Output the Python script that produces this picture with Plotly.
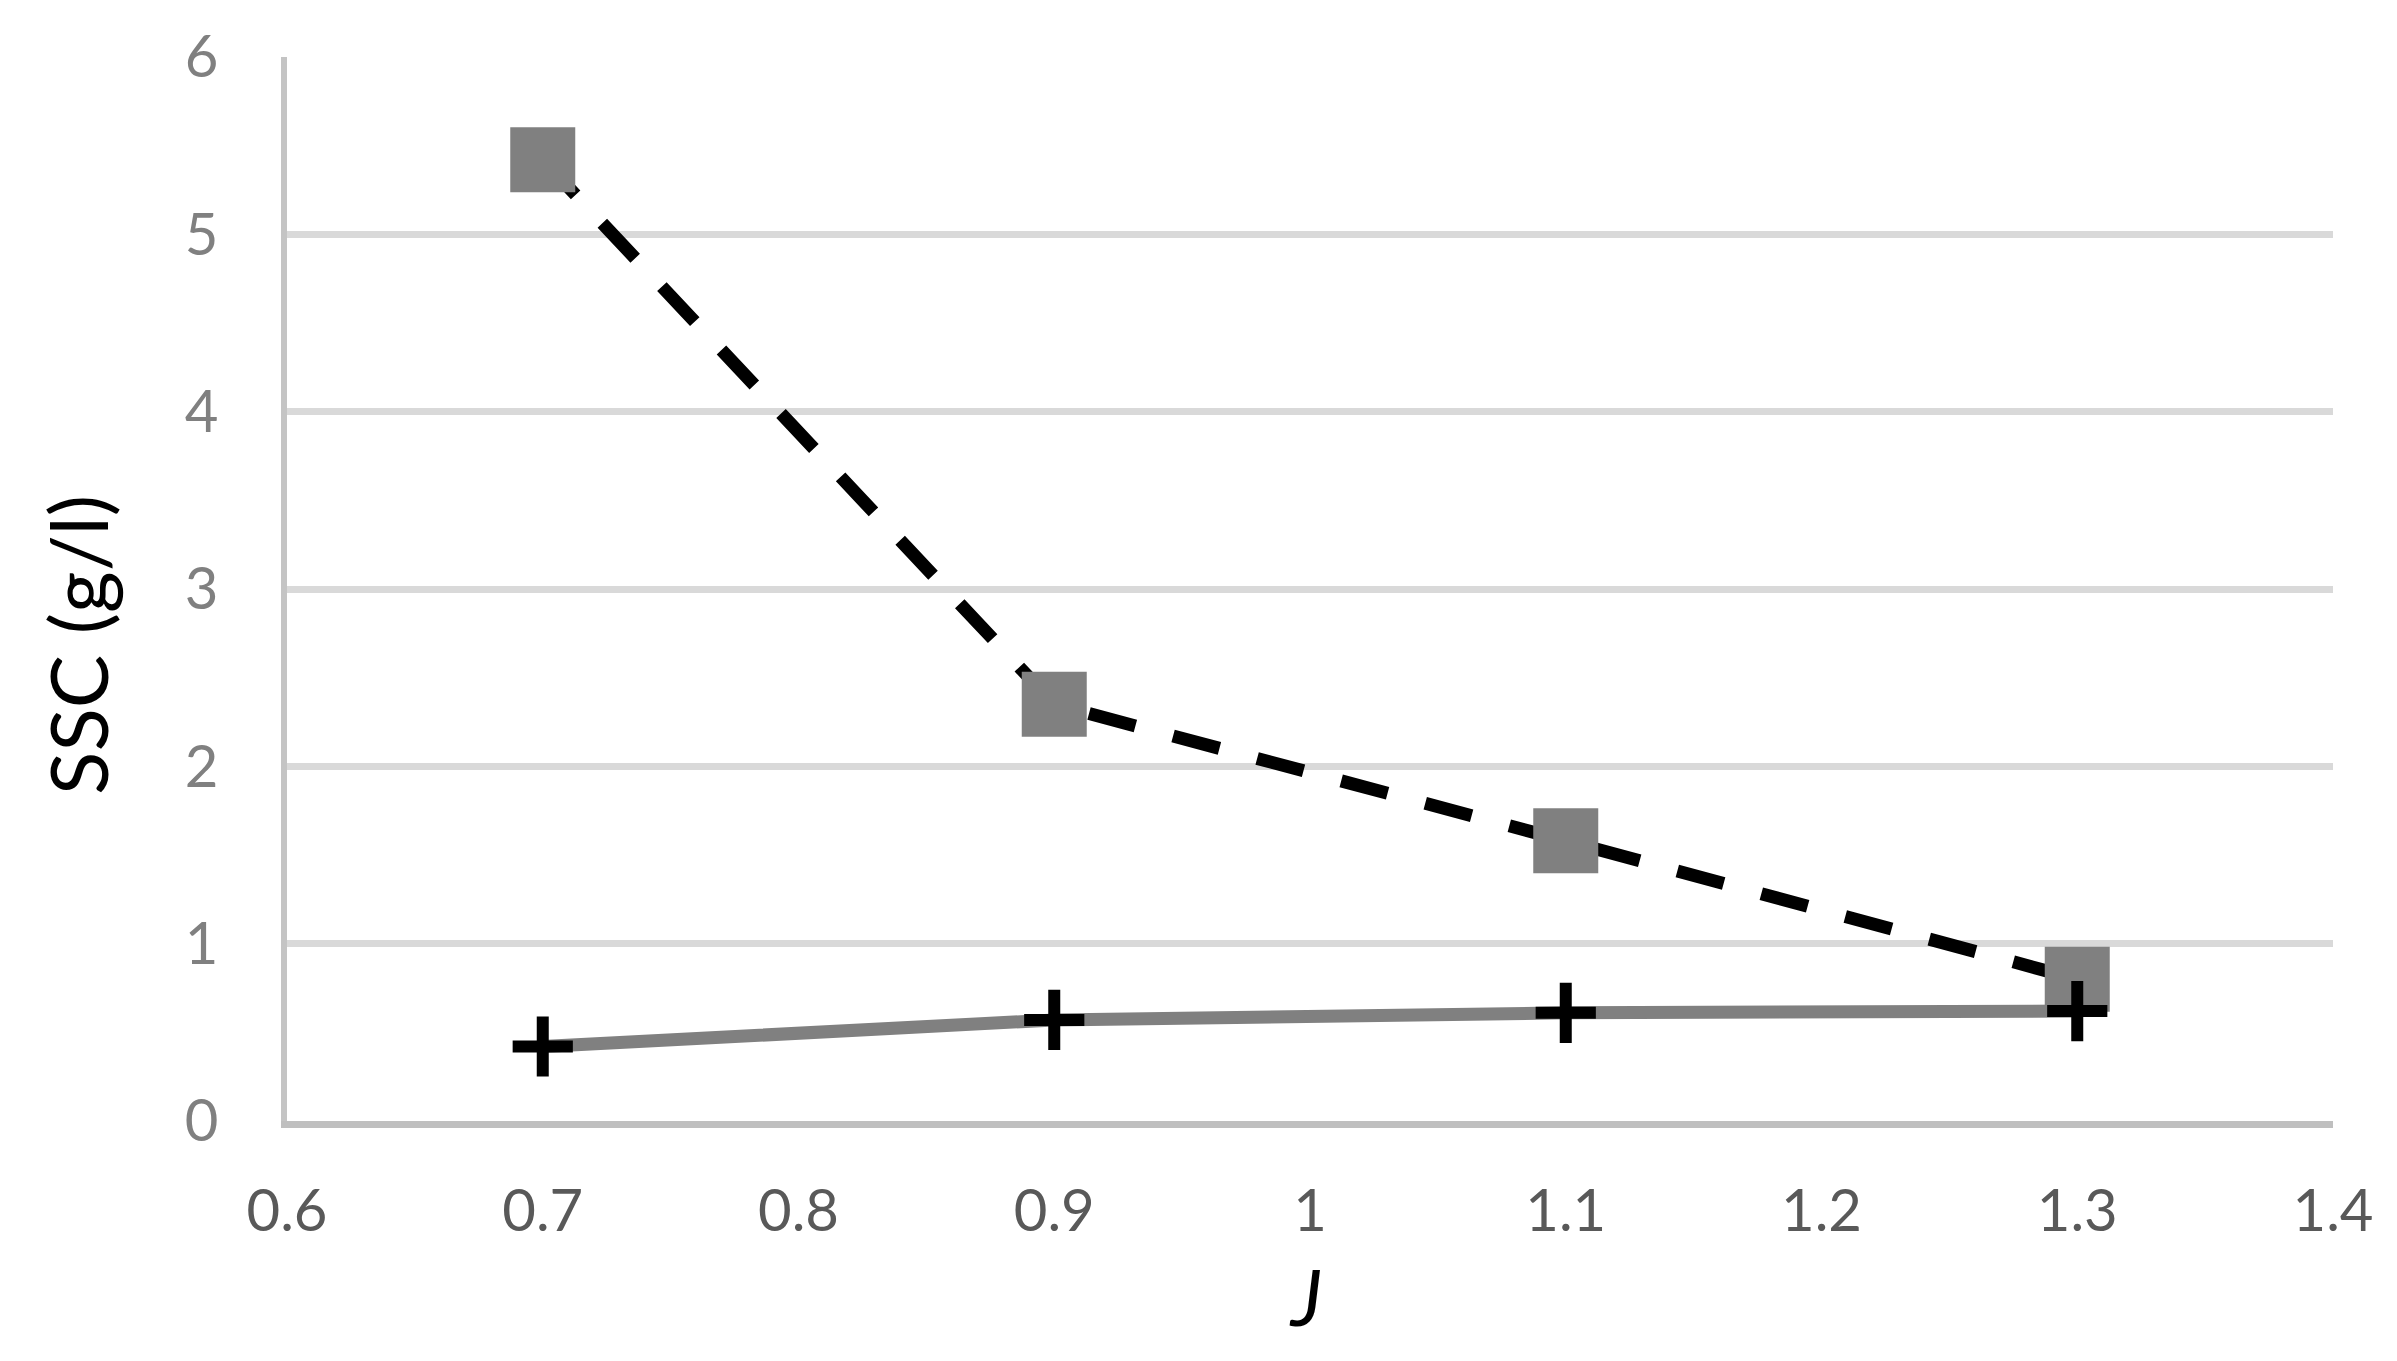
import plotly.graph_objects as go

# J values on the x axis
j_values = [0.7, 0.9, 1.1, 1.3]

# SSC (g/l) for the two series
ssc_squares = [5.42, 2.35, 1.58, 0.80]
ssc_crosses = [0.42, 0.57, 0.61, 0.62]

x_ticks = [0.6, 0.7, 0.8, 0.9, 1.0, 1.1, 1.2, 1.3, 1.4]
x_tick_text = ['0.6', '0.7', '0.8', '0.9', '1', '1.1', '1.2', '1.3', '1.4']
y_ticks = [0, 1, 2, 3, 4, 5, 6]

font_name = 'Lato'

fig = go.Figure()

# lines first, markers on top
fig.add_trace(go.Scatter(x=j_values, y=ssc_squares, mode='lines',
                         line=dict(color='black', width=13, dash='48px,39px'),
                         showlegend=False, hoverinfo='skip'))
fig.add_trace(go.Scatter(x=j_values, y=ssc_crosses, mode='lines',
                         line=dict(color='#808080', width=13),
                         showlegend=False, hoverinfo='skip'))
fig.add_trace(go.Scatter(x=j_values, y=ssc_squares, mode='markers',
                         marker=dict(symbol='square', size=65, color='#808080',
                                     line=dict(width=0)),
                         showlegend=False))
fig.add_trace(go.Scatter(x=j_values, y=ssc_crosses, mode='markers',
                         marker=dict(symbol='cross-thin', size=43,
                                     line=dict(width=12, color='black')),
                         showlegend=False))

# page body has an 8px margin, so the margins below allow for it
fig.update_layout(
    width=2397, height=1361,
    margin=dict(l=279, r=72, t=45, b=248),
    paper_bgcolor='white', plot_bgcolor='white',
    font=dict(family=font_name),
    xaxis=dict(range=[0.6, 1.4], tickvals=x_ticks, ticktext=x_tick_text,
               showgrid=False, zeroline=False,
               showline=True, linecolor='#bfbfbf', linewidth=7,
               ticks='', ticklabelstandoff=33,
               tickfont=dict(family=font_name, size=58, color='#595959')),
    yaxis=dict(range=[0, 6], tickvals=y_ticks,
               showgrid=True, gridcolor='#d9d9d9', gridwidth=7,
               zeroline=False,
               showline=True, linecolor='#c4c4c4', linewidth=6,
               ticks='', ticklabelstandoff=51,
               tickfont=dict(family=font_name, size=58, color='#808080')),
    annotations=[
        dict(text='SSC (g/l)', textangle=-90, xref='paper', yref='paper',
             x=-0.103, y=0.4476, xanchor='center', yanchor='middle',
             showarrow=False, font=dict(family=font_name, size=80, color='black')),
        dict(text='<i>J</i>', xref='paper', yref='paper',
             x=0.4976, y=-0.1648, xanchor='center', yanchor='middle',
             showarrow=False, font=dict(family=font_name, size=78, color='black')),
    ],
)

fig.write_html('out.html')
